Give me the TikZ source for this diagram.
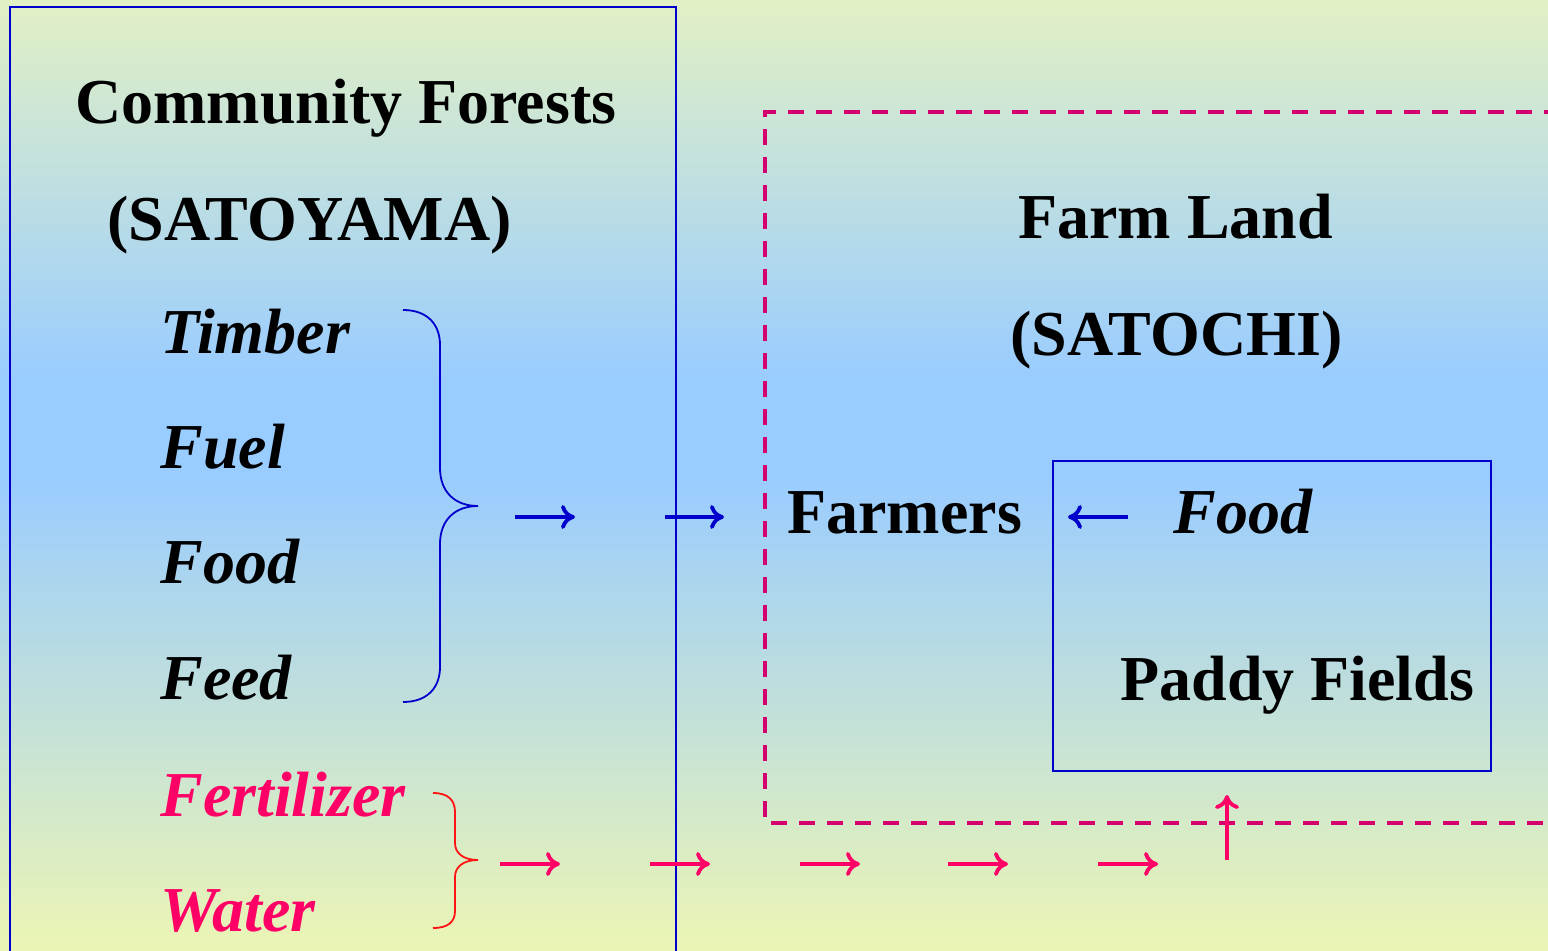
\documentclass[tikz,border=0pt]{standalone}
\usepackage{fontspec}
\setmainfont{Liberation Serif}
\usetikzlibrary{arrows.meta}
\definecolor{bgtop}{RGB}{226,240,196}
\definecolor{bgmid}{RGB}{153,204,255}
\definecolor{bgbot}{RGB}{236,245,180}
\definecolor{lineblue}{RGB}{0,0,204}
\definecolor{pinkred}{RGB}{255,0,102}
\definecolor{dashmag}{RGB}{212,0,110}
\definecolor{bracered}{RGB}{255,20,20}
\pgfdeclareverticalshading{bgshade}{100bp}{color(0bp)=(bgbot); color(25bp)=(bgbot); color(50bp)=(bgmid); color(55bp)=(bgmid); color(75bp)=(bgtop); color(100bp)=(bgtop)}
\tikzset{
  lbl/.style={anchor=base west, inner sep=0pt, font=\fontsize{32}{38}\selectfont\bfseries},
  ilbl/.style={lbl, font=\fontsize{32}{38}\selectfont\bfseries\itshape},
  bluearr/.style={draw=lineblue, line width=1.9pt, -{To[length=7pt,width=12pt]}},
  pinkarr/.style={draw=pinkred, line width=1.9pt, -{To[length=7pt,width=12pt]}},
}
\begin{document}
\begin{tikzpicture}[x=0.5pt,y=-0.5pt]
\useasboundingbox (0,0) rectangle (1548,951);
\shade[shading=bgshade] (0,0) rectangle (1548,951);
% left box
\draw[lineblue, line width=1.2pt] (10,960) -- (10,7) -- (676,7) -- (676,960);
% dashed farm land box
\draw[dashmag, line width=1.8pt, dash pattern=on 8pt off 6pt] (1560,112) -- (765,112) -- (765,823) -- (1560,823);
% paddy box
\draw[lineblue, line width=1.4pt] (1053,461) rectangle (1491,771);

% texts
\node[lbl] (cf) at (75,124) {Community Forests};
\node[lbl] (sy) at (107,241) {(SATOYAMA)};
\node[ilbl] (timber) at (160,354) {Timber};
\node[ilbl] (fuel) at (160,469) {Fuel};
\node[ilbl] (food1) at (160,584) {Food};
\node[ilbl] (feed) at (160,700) {Feed};
\node[ilbl, text=pinkred] (fert) at (160,816) {Fertilizer};
\node[ilbl, text=pinkred] (water) at (160,931) {Water};
\node[lbl] (fl) at (1018,239) {Farm Land};
\node[lbl] (sc) at (1010,356) {(SATOCHI)};
\node[lbl] (farmers) at (787,534) {Farmers};
\node[ilbl] (food2) at (1173,534) {Food};
\node[lbl] (paddy) at (1120,701) {Paddy Fields};

% blue brace
\draw[lineblue, line width=0.9pt] (403,310) .. controls (428,310) and (440,325) .. (440,345)
  -- (440,468) .. controls (440,492) and (455,506) .. (478,506)
  .. controls (455,506) and (440,520) .. (440,544)
  -- (440,667) .. controls (440,687) and (428,702) .. (403,702);
% red brace
\draw[bracered, line width=0.9pt] (433,793) .. controls (448,793) and (455,800) .. (455,812)
  -- (455,843) .. controls (455,853) and (463,860) .. (478,860)
  .. controls (463,860) and (455,867) .. (455,877)
  -- (455,911) .. controls (455,922) and (448,928) .. (433,928);

% blue arrows
\coordinate (b1s) at (515,517); \coordinate (b1e) at (575,517);
\coordinate (b2s) at (665,517); \coordinate (b2e) at (724,517);
\coordinate (b3s) at (1128,517); \coordinate (b3e) at (1068,517);
\draw[bluearr] (b1s) -- (b1e);
\draw[bluearr] (b2s) -- (b2e);
\draw[bluearr] (b3s) -- (b3e);

% pink arrows
\foreach \x [count=\i] in {500,650,800,948,1098} {
  \coordinate (p\i s) at (\x,864);
  \coordinate (p\i e) at ({\x+60},864);
  \draw[pinkarr] (p\i s) -- (p\i e);
}
\coordinate (us) at (1227,860); \coordinate (ue) at (1227,795);
\draw[pinkarr] (us) -- (ue);
\end{tikzpicture}
\end{document}
